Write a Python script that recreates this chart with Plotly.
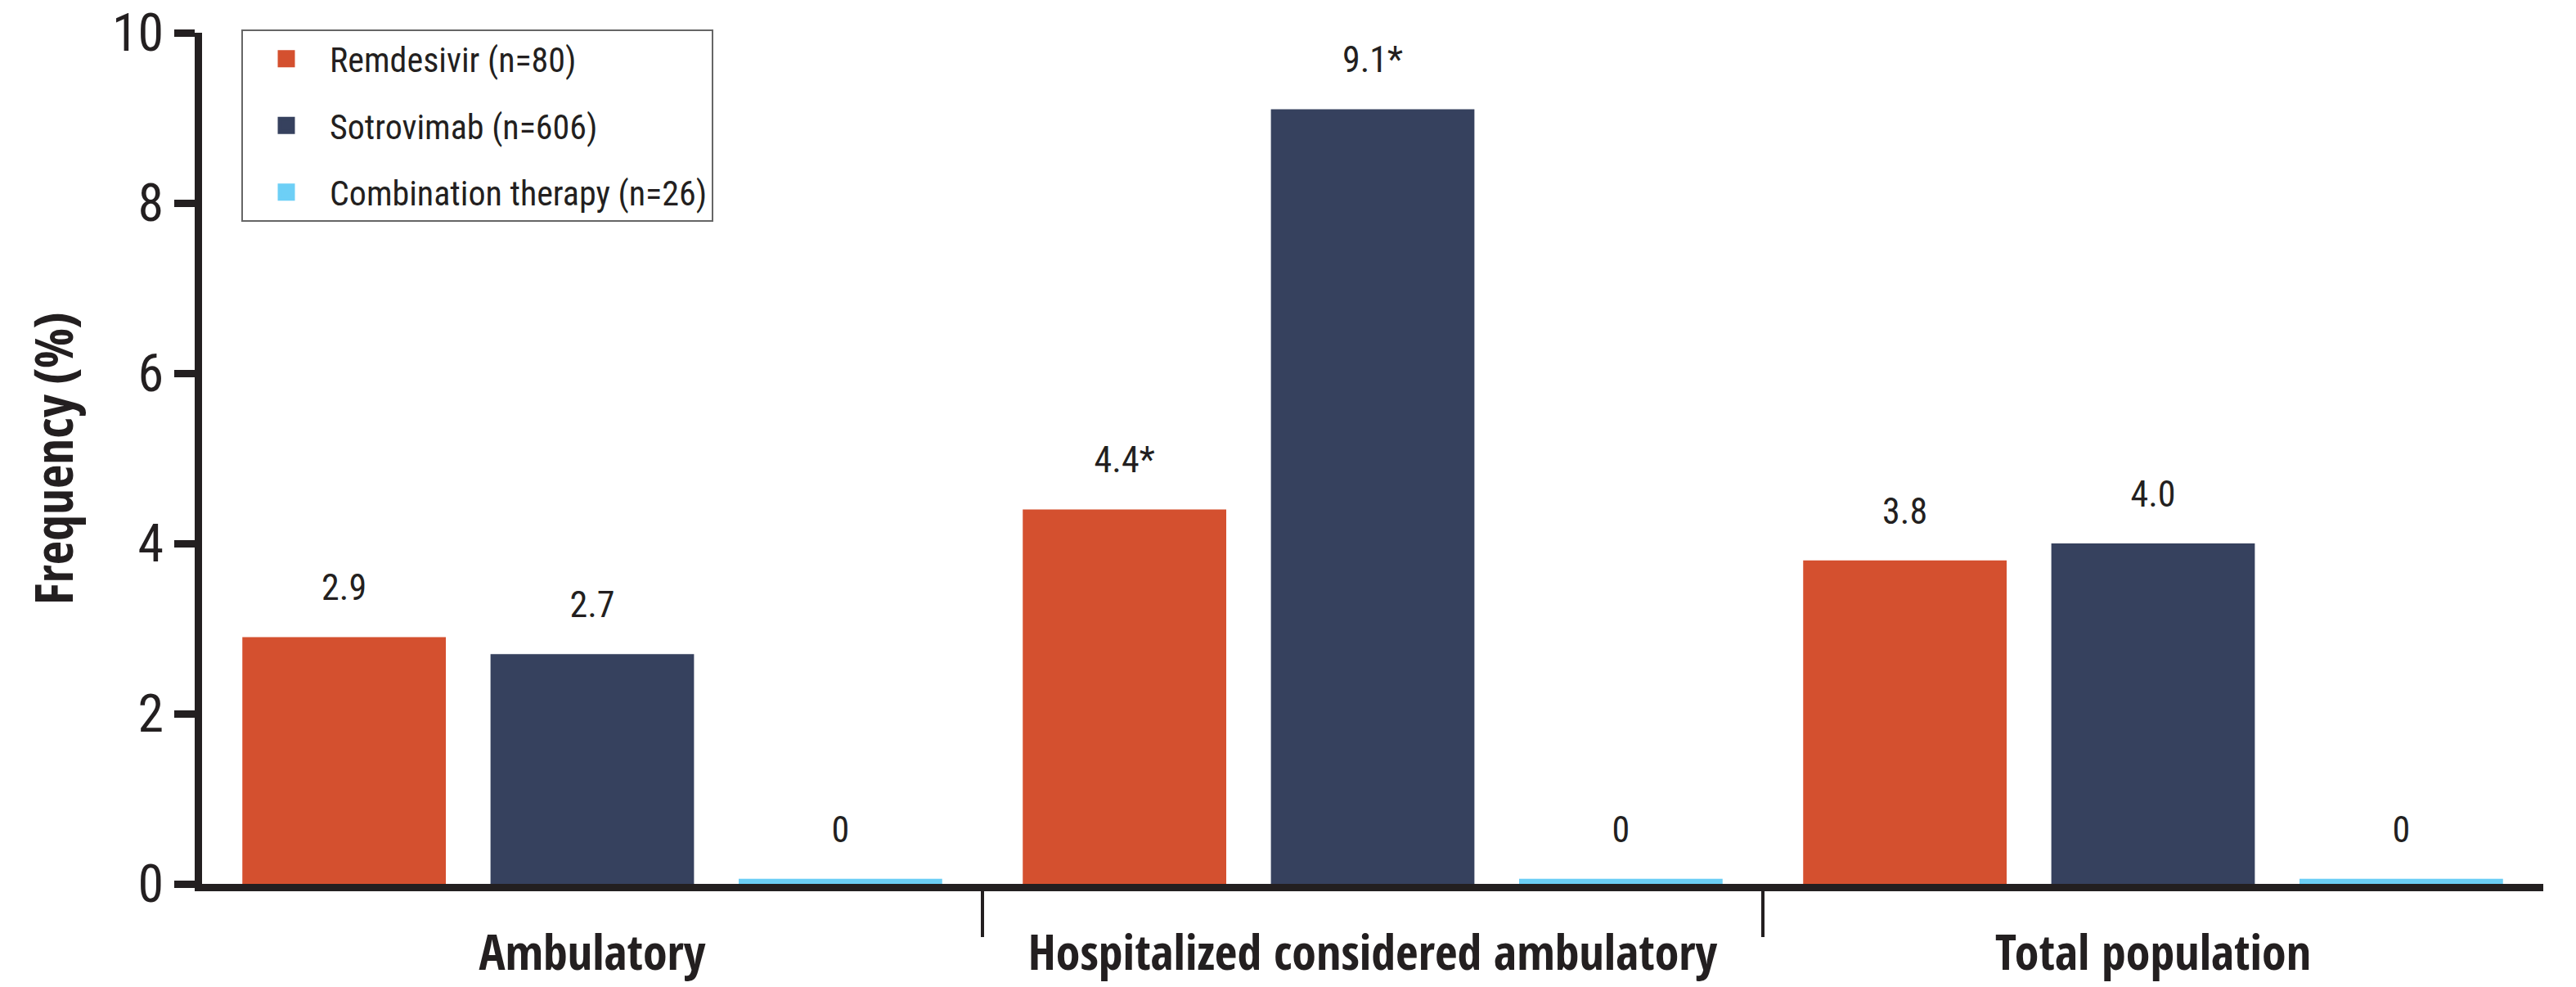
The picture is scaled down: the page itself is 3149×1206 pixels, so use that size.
import plotly.graph_objects as go

# ---- data ----
categories = ["Ambulatory", "Hospitalized considered ambulatory", "Total population"]
series_names = ["Remdesivir (n=80)", "Sotrovimab (n=606)", "Combination therapy (n=26)"]
remdesivir = [2.9, 4.4, 3.8]
sotrovimab = [2.7, 9.1, 4.0]
combination = [0, 0, 0]
remdesivir_labels = ["2.9", "4.4*", "3.8"]
sotrovimab_labels = ["2.7", "9.1*", "4.0"]
combination_labels = ["0", "0", "0"]
y_ticks = [0, 2, 4, 6, 8, 10]

# ---- style ----
colors = ["#d4502f", "#36415e", "#6dcff6"]
INK = "#231f20"
F_LEG = "Roboto, DejaVu Sans Condensed, sans-serif"
F_BAR = "Roboto Condensed, Roboto, DejaVu Sans Condensed, sans-serif"
F_CAT = "Open Sans Condensed, Roboto Condensed, DejaVu Sans Condensed, sans-serif"
F_TITLE = "Open Sans, Roboto, DejaVu Sans Condensed, sans-serif"
F_TICK = "Roboto, DejaVu Sans Condensed, sans-serif"
COND = '<span style="font-stretch:condensed">{}</span>'
ZERO_STUB = 0.06      # minimal visible height for zero-valued bars
LABEL_LIFT = 0.3      # gap between bar top and its value label (axis units)
W, H = 3149, 1206
ML, MR, MT, MB = 247, 40, 40, 126

fig = go.Figure()
series = [remdesivir, sotrovimab, combination]
labels = [remdesivir_labels, sotrovimab_labels, combination_labels]
for i, (name, vals, labs, col) in enumerate(zip(series_names, series, labels, colors)):
    shown = [v if v > 0 else ZERO_STUB for v in vals]
    fig.add_trace(go.Bar(
        x=categories, y=shown, name=name, offsetgroup=str(i), legendgroup=str(i),
        showlegend=False, marker=dict(color=col, line=dict(width=0)), hoverinfo="skip",
    ))
    fig.add_trace(go.Bar(
        x=categories, y=[LABEL_LIFT] * len(vals), base=shown, offsetgroup=str(i),
        legendgroup=str(i), showlegend=False, hoverinfo="skip",
        marker=dict(color="rgba(0,0,0,0)", line=dict(width=0)),
        text=labs, textposition="outside", cliponaxis=False,
        textfont=dict(family=F_BAR, size=44, color=INK),
    ))
    # legend entry with a square swatch
    fig.add_trace(go.Scatter(
        x=[None], y=[None], mode="markers", name=COND.format(name), legendgroup=str(i),
        marker=dict(symbol="square", size=16, color=col, line=dict(width=5, color=col)),
        hoverinfo="skip",
    ))

separators = [i + 0.5 for i in range(len(categories) - 1)]
cat_range = [-0.5, len(categories) - 0.5]
# invisible carrier so the separator-tick axis is drawn
fig.add_trace(go.Scatter(
    x=separators, y=[0] * len(separators), xaxis="x2", mode="markers",
    marker=dict(opacity=0), showlegend=False, hoverinfo="skip",
))

fig.update_layout(
    width=W, height=H,
    margin=dict(l=ML, r=MR, t=MT, b=MB, autoexpand=False),
    paper_bgcolor="white", plot_bgcolor="white",
    barmode="group", bargap=0.046, bargroupgap=0.18,
    font=dict(family=F_LEG, color=INK),
    showlegend=True,
    legend=dict(
        x=(295 - ML) / (W - ML - MR), y=1.004, xanchor="left", yanchor="top",
        bgcolor="white", bordercolor="#666666", borderwidth=2,
        font=dict(family=F_LEG, size=42, color=INK),
        tracegroupgap=24, itemwidth=96, itemsizing="trace",
    ),
    xaxis=dict(
        type="category", range=cat_range, showline=True, linewidth=9, linecolor=INK,
        ticks="outside", ticklen=24, tickcolor="rgba(0,0,0,0)",
        tickfont=dict(family=F_CAT, size=60, color=INK, weight="bold"),
        showgrid=False, zeroline=False, automargin=False,
    ),
    xaxis2=dict(
        overlaying="x", anchor="y", side="bottom", range=cat_range,
        tickmode="array", tickvals=separators, ticks="outside", ticklen=64,
        tickwidth=4, tickcolor=INK, showticklabels=False, showline=False,
        showgrid=False, zeroline=False,
    ),
    yaxis=dict(
        range=[0, 10], tickmode="array", tickvals=y_ticks,
        ticktext=[COND.format(t) for t in y_ticks], ticklabeloverflow="allow",
        showline=True, linewidth=9, linecolor=INK, ticks="outside", ticklen=25,
        tickwidth=9, tickcolor=INK, tickfont=dict(family=F_TICK, size=64, color=INK),
        title=dict(text=COND.format("Frequency (%)"), standoff=30,
                   font=dict(family=F_TITLE, size=64, color=INK, weight="bold")),
        showgrid=False, zeroline=False, automargin=False,
    ),
)

fig.write_html("out.html")
